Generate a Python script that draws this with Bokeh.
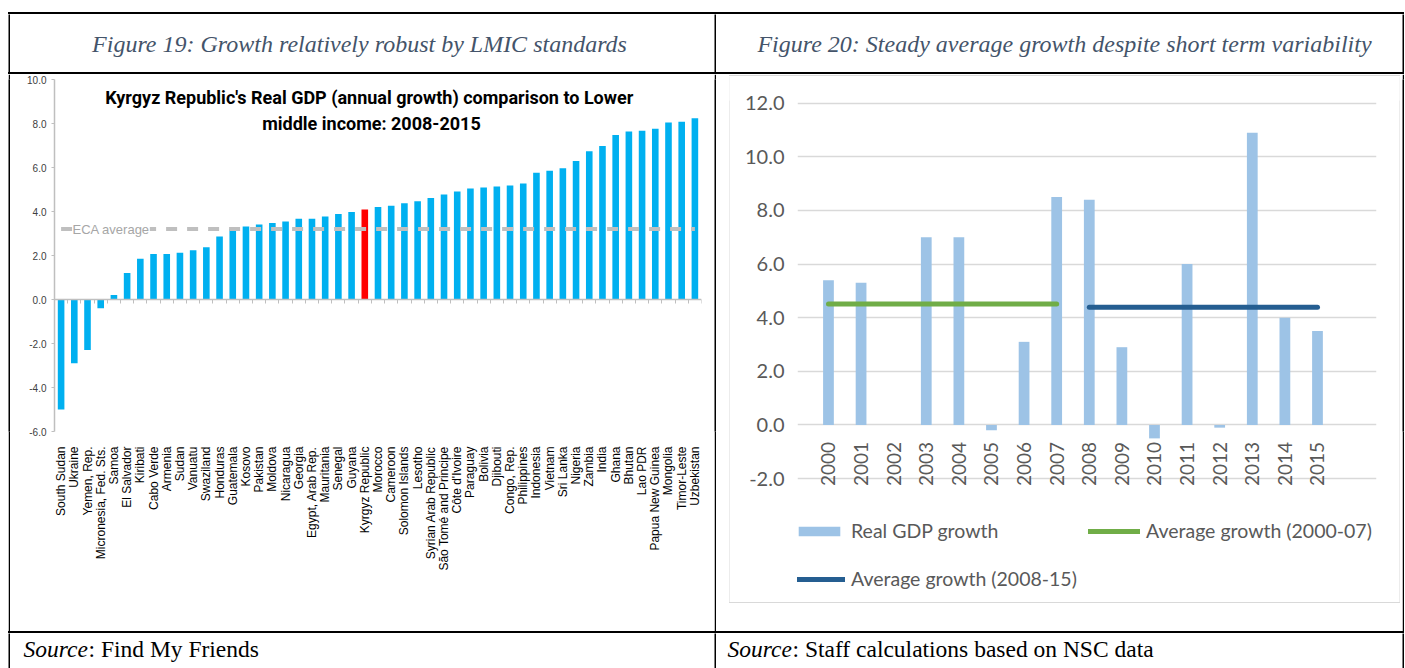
from math import pi
from bokeh.plotting import figure
from bokeh.layouts import row, column
from bokeh.models import (Range1d, LinearAxis, FixedTicker, NumeralTickFormatter,
                          CustomJSTickFormatter, Label, Legend, LegendItem, Spacer,
                          ColumnDataSource)
from bokeh.embed import file_html
from bokeh.resources import INLINE

# ---------------- data ----------------
header_left = "Figure 19:  Growth relatively robust by LMIC standards"
header_right = "Figure 20: Steady average growth despite short term variability"
source_left = ": Find My Friends"
source_right = ": Staff calculations based on NSC data"

chart1_title = "Kyrgyz Republic's Real GDP (annual growth) comparison to  Lower\nmiddle income: 2008-2015"
countries = [
    "South Sudan", "Ukraine", "Yemen, Rep.", "Micronesia, Fed. Sts.", "Samoa", "El Salvador",
    "Kiribati", "Cabo Verde", "Armenia", "Sudan", "Vanuatu", "Swaziland", "Honduras",
    "Guatemala", "Kosovo", "Pakistan", "Moldova", "Nicaragua", "Georgia", "Egypt, Arab Rep.",
    "Mauritania", "Senegal", "Guyana", "Kyrgyz Republic", "Morocco", "Cameroon",
    "Solomon Islands", "Lesotho", "Syrian Arab Republic", "São Tomé and Principe",
    "Côte d'Ivoire", "Paraguay", "Bolivia", "Djibouti", "Congo, Rep.", "Philippines",
    "Indonesia", "Vietnam", "Sri Lanka", "Nigeria", "Zambia", "India", "Ghana", "Bhutan",
    "Lao PDR", "Papua New Guinea", "Mongolia", "Timor-Leste", "Uzbekistan",
]
growth = [
    -5.0, -2.9, -2.3, -0.4, 0.2, 1.2,
    1.85, 2.07, 2.07, 2.12, 2.24, 2.38, 2.86,
    3.21, 3.32, 3.41, 3.48, 3.55, 3.67, 3.67,
    3.77, 3.89, 3.98, 4.09, 4.21, 4.26,
    4.38, 4.47, 4.61, 4.77,
    4.91, 5.05, 5.09, 5.14, 5.18, 5.27,
    5.76, 5.85, 5.97, 6.30, 6.74, 6.98, 7.48, 7.64,
    7.67, 7.76, 8.05, 8.08, 8.24,
]
highlight_country = "Kyrgyz Republic"
eca_average = 3.2
eca_label = "ECA average"
left_y_ticks = [-6, -4, -2, 0, 2, 4, 6, 8, 10]

years = [2000, 2001, 2002, 2003, 2004, 2005, 2006, 2007,
         2008, 2009, 2010, 2011, 2012, 2013, 2014, 2015]
gdp_growth = [5.4, 5.3, 0.0, 7.0, 7.0, -0.2, 3.1, 8.5,
              8.4, 2.9, -0.5, 6.0, -0.1, 10.9, 4.0, 3.5]
avg_2000_07 = 4.51
avg_2008_15 = 4.39
right_y_ticks = [-2, 0, 2, 4, 6, 8, 10, 12]
series_names = ["Real GDP growth", "Average growth (2000-07)", "Average growth (2008-15)"]

# ---------------- styles ----------------
SERIF = "Liberation Serif"
ARIAL = "Liberation Sans"
TITLE_FONT = "Roboto"
CAL = "Lato"
BAR1 = "#00B0F0"
BAR_HI = "#FF0000"
BAR2 = "#9DC3E6"
GREEN = "#70AD47"
BLUE = "#255E91"
BOX_GREY = "#D9D9D9"


def blank(w, h, color="white"):
    f = figure(width=w, height=h, toolbar_location=None, output_backend="svg",
               x_axis_type=None, y_axis_type=None, min_border=0, title=None,
               x_range=(0, 1), y_range=(0, 1))
    f.outline_line_color = None
    f.background_fill_color = color
    f.border_fill_color = color
    return f


def rule(w, h, color):
    return Spacer(width=w, height=h, styles={"background-color": color})


W_TOT = 1396
W_L = 704
W_R = 686

# ---------------- header cells ----------------
hl = blank(W_L, 58)
hl.add_layout(Label(x=352, y=29, x_units="screen", y_units="screen", text=header_left,
                    text_align="center", text_baseline="middle", text_font=SERIF,
                    text_font_style="italic", text_font_size="24px", text_color="#44546A"))
hr = blank(W_R, 58)
hr.add_layout(Label(x=348, y=29, x_units="screen", y_units="screen", text=header_right,
                    text_align="center", text_baseline="middle", text_font=SERIF,
                    text_font_style="italic", text_font_size="24px", text_color="#44546A"))

# ---------------- left chart ----------------
n = len(countries)
x_pos = [i + 0.5 for i in range(n)]          # category centres on a linear scale
bounds = [i for i in range(n + 1)]           # category boundaries
bar_colors = [BAR_HI if c == highlight_country else BAR1 for c in countries]
src1 = ColumnDataSource(dict(x=x_pos, growth=growth, color=bar_colors))
p1 = figure(width=W_L, height=557, x_range=Range1d(0, n), y_range=Range1d(-6, 10),
            toolbar_location=None, output_backend="svg",
            min_border_left=44, min_border_right=13, min_border_top=5, min_border_bottom=200)
p1.outline_line_color = None
p1.xgrid.visible = False
p1.ygrid.visible = False
p1.vbar(x="x", top="growth", width=0.5, fill_color="color", line_color=None, source=src1)
p1.line(x=[x_pos[0], x_pos[-1]], y=[eca_average, eca_average],
        line_color="#BFBFBF", line_width=4, line_dash="11 10")

xa = p1.xaxis[0]
xa.ticker = FixedTicker(ticks=x_pos)
xa.formatter = CustomJSTickFormatter(args=dict(names=countries),
                                     code="return names[Math.floor(tick)]")
xa.major_label_orientation = pi / 2
xa.axis_line_color = None
xa.major_tick_line_color = None
xa.minor_tick_line_color = None
xa.major_label_standoff = 9
xa.major_label_text_font = ARIAL
xa.major_label_text_font_size = "12px"
xa.major_label_text_color = "#000000"

zero_axis = LinearAxis(fixed_location=0, ticker=FixedTicker(ticks=bounds),
                       formatter=CustomJSTickFormatter(code="return ''"),
                       axis_line_color="#BFBFBF", axis_line_width=1.5,
                       major_tick_line_color="#BFBFBF", major_tick_in=0, major_tick_out=4,
                       minor_tick_line_color=None)
p1.add_layout(zero_axis, "below")

ya = p1.yaxis[0]
ya.ticker = FixedTicker(ticks=left_y_ticks)
ya.formatter = NumeralTickFormatter(format="0.0")
ya.axis_line_color = "#BFBFBF"
ya.axis_line_width = 1.5
ya.major_tick_line_color = "#BFBFBF"
ya.major_tick_in = 0
ya.major_tick_out = 3
ya.minor_tick_line_color = None
ya.major_label_text_font = ARIAL
ya.major_label_text_font_size = "10px"
ya.major_label_text_color = "#404040"
ya.major_label_standoff = 5

p1.add_layout(Label(x=18, x_units="screen", y=eca_average, text=eca_label,
                    text_font=ARIAL, text_font_size="13px", text_color="#A6A6A6",
                    text_baseline="middle", background_fill_color="white"))
p1.add_layout(Label(x=317, x_units="screen", y=345, y_units="screen", text=chart1_title,
                    text_align="center", text_baseline="top", text_font=TITLE_FONT,
                    text_font_style="bold", text_font_size="18px", text_color="#000000",
                    text_line_height=1.25))

# ---------------- right chart ----------------
p2 = figure(width=669, height=526, x_range=Range1d(1999.05, 2016.81), y_range=Range1d(-6.62, 12.1),
            toolbar_location=None, output_backend="svg",
            min_border_left=67, min_border_right=23, min_border_top=24, min_border_bottom=0)
p2.outline_line_color = None
p2.xgrid.visible = False
p2.ygrid.ticker = FixedTicker(ticks=right_y_ticks)
p2.ygrid.grid_line_color = BOX_GREY
p2.ygrid.grid_line_width = 1.5

r_bar = p2.vbar(x=years, top=gdp_growth, width=0.33, fill_color=BAR2, line_color=None)
r_g = p2.line(x=[years[0], years[7]], y=[avg_2000_07, avg_2000_07],
              line_color=GREEN, line_width=5, line_cap="round")
r_b = p2.line(x=[years[8], years[15]], y=[avg_2008_15, avg_2008_15],
              line_color=BLUE, line_width=5, line_cap="round")

xb = p2.xaxis[0]
xb.fixed_location = 0
xb.ticker = FixedTicker(ticks=years)
xb.formatter = NumeralTickFormatter(format="0")
xb.major_label_orientation = pi / 2
xb.axis_line_color = None
xb.major_tick_line_color = None
xb.minor_tick_line_color = None
xb.major_label_standoff = 11
xb.major_label_text_font = CAL
xb.major_label_text_font_size = "19px"
xb.major_label_text_color = "#595959"

yb = p2.yaxis[0]
yb.ticker = FixedTicker(ticks=right_y_ticks)
yb.formatter = NumeralTickFormatter(format="0.0")
yb.axis_line_color = None
yb.major_tick_line_color = None
yb.minor_tick_line_color = None
yb.major_label_standoff = 7
yb.major_label_text_font = CAL
yb.major_label_text_font_size = "20px"
yb.major_label_text_color = "#595959"

legend_style = dict(orientation="horizontal", label_width=225, spacing=12, glyph_width=52,
                    glyph_height=12, label_height=12, label_standoff=6, padding=0, margin=0,
                    border_line_color=None, background_fill_alpha=0,
                    label_text_font=CAL, label_text_font_size="19.5px", label_text_color="#595959")
leg1 = Legend(items=[LegendItem(label=series_names[0], renderers=[r_bar]),
                     LegendItem(label=series_names[1], renderers=[r_g])],
              location=(-4, 60), **legend_style)
leg2 = Legend(items=[LegendItem(label=series_names[2], renderers=[r_b])],
              location=(-4, 12), **legend_style)
p2.add_layout(leg1)
p2.add_layout(leg2)

# grey chart box
box = column(
    rule(671, 1, BOX_GREY),
    row(blank(1, 526, BOX_GREY), p2, blank(1, 526, BOX_GREY)),
    rule(671, 1, BOX_GREY),
)
right_cell = row(Spacer(width=13, height=557),
                 column(Spacer(width=671, height=1), box, Spacer(width=671, height=28)),
                 Spacer(width=2, height=557))

# ---------------- source cells ----------------
SRC_SIZE = "23.5px"
sl = blank(W_L, 35)
sl.add_layout(Label(x=13, y=20, x_units="screen", y_units="screen", text="Source",
                    text_baseline="middle", text_font=SERIF, text_font_style="italic",
                    text_font_size=SRC_SIZE, text_color="black"))
sl.add_layout(Label(x=78, y=20, x_units="screen", y_units="screen", text=source_left,
                    text_baseline="middle", text_font=SERIF,
                    text_font_size=SRC_SIZE, text_color="black"))
sr = blank(W_R, 35)
sr.add_layout(Label(x=11, y=20, x_units="screen", y_units="screen", text="Source",
                    text_baseline="middle", text_font=SERIF, text_font_style="italic",
                    text_font_size=SRC_SIZE, text_color="black"))
sr.add_layout(Label(x=76, y=20, x_units="screen", y_units="screen", text=source_right,
                    text_baseline="middle", text_font=SERIF,
                    text_font_size=SRC_SIZE, text_color="black"))


def vline(h):
    return blank(2, h, "black")


def hline():
    return rule(W_TOT, 2, "black")


table = column(
    hline(),
    row(vline(58), hl, vline(58), hr, vline(58)),
    hline(),
    row(vline(557), p1, vline(557), right_cell, vline(557)),
    hline(),
    row(vline(35), sl, vline(35), sr, vline(35)),
)
page = column(Spacer(width=W_TOT + 8, height=12), row(Spacer(width=8, height=660), table))

open("out.html", "w").write(file_html(page, INLINE))
